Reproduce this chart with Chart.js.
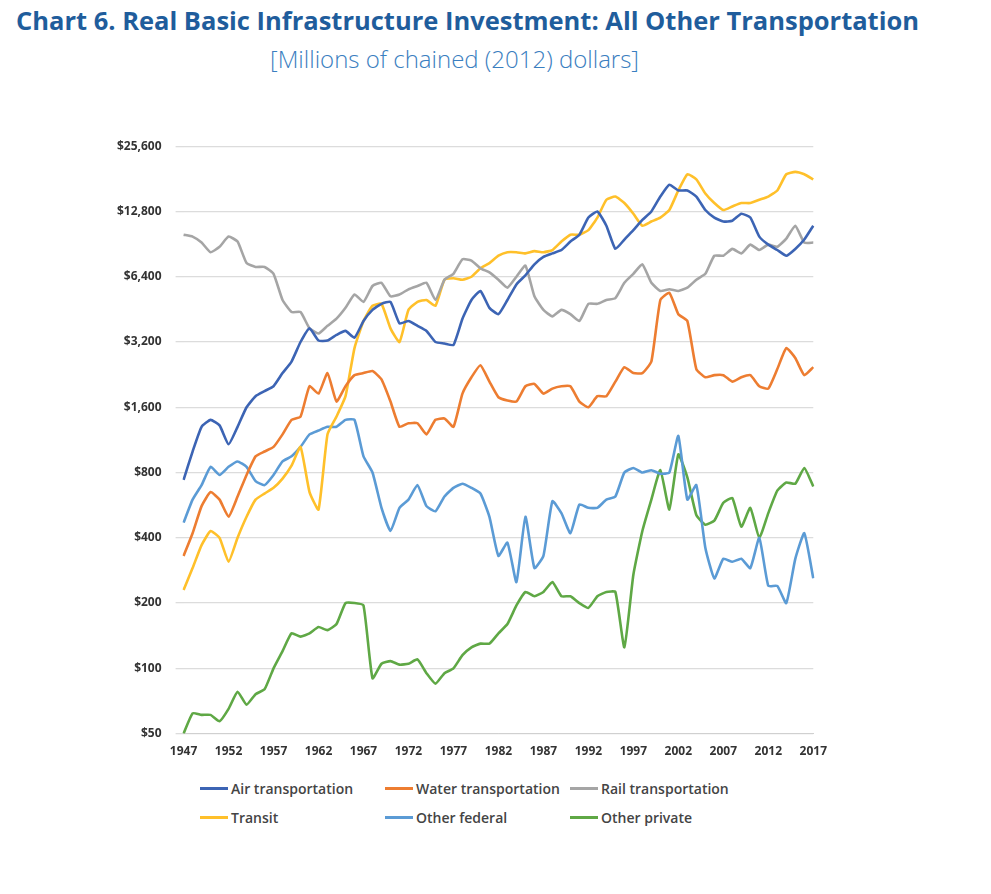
<!DOCTYPE html>
<html>
<head>
<meta charset="utf-8">
<script src="https://cdn.jsdelivr.net/npm/chart.js@4"></script>
<style>
body { margin:0; background:#fff; font-family:"Open Sans", sans-serif; width:991px; height:894px; position:relative; }
#title { position:absolute; left:16px; top:3px; font-size:25.5px; font-weight:bold; color:#1f5d9c; }
#sub { position:absolute; left:270px; top:42px; font-size:24px; font-weight:300; color:#3a7ec0; }
#wrap { position:absolute; left:103px; top:125px; width:727px; height:637px; }
#legend { position:absolute; left:200px; top:779px; width:620px; font-size:14px; font-weight:600; color:#444; }
.item { position:absolute; display:flex; align-items:center; }
.sw { width:28px; height:3px; margin-right:3px; }
</style>
</head>
<body>
<div id="title">Chart 6. Real Basic Infrastructure Investment: All Other Transportation</div>
<div id="sub">[Millions of chained (2012) dollars]</div>
<div id="wrap"><canvas id="chart"></canvas></div>
<div id="legend"></div>
<script>
var years = [];
for (var y = 1947; y <= 2017; y++) years.push(String(y));

var tickValues = [50, 100, 200, 400, 800, 1600, 3200, 6400, 12800, 25600];

var air = [740,1000,1300,1400,1320,1080,1300,1600,1800,1900,
  2000,2300,2600,3200,3700,3250,3250,3450,3600,3350,
  4000,4500,4800,4900,3900,4000,3800,3600,3200,3150,
  3100,4100,5000,5500,4600,4300,5000,5900,6500,7300,
  7900,8200,8500,9300,10000,12000,12800,11000,8600,9500,
  10500,11700,12800,15000,17000,16000,16000,15000,13000,12000,
  11500,11600,12500,12000,9800,9000,8500,8000,8600,9500,
  11000];
var water = [330,420,560,650,600,500,620,780,950,1000,
  1050,1200,1400,1450,2000,1850,2300,1700,2000,2250,
  2300,2350,2150,1700,1300,1350,1350,1200,1400,1420,
  1300,1850,2200,2500,2100,1780,1720,1700,2000,2050,
  1850,1950,2000,2000,1700,1600,1800,1800,2100,2450,
  2300,2300,2600,5000,5400,4300,4000,2400,2200,2250,
  2250,2100,2200,2250,2000,1950,2400,3000,2700,2250,
  2450];
var rail = [10000,9800,9200,8300,8800,9800,9300,7400,7100,7100,
  6600,5000,4400,4400,3700,3500,3800,4100,4600,5300,
  4900,5800,6000,5200,5300,5600,5800,6000,5000,6200,
  6600,7700,7600,7000,6700,6200,5700,6400,7200,5200,
  4500,4200,4500,4300,4000,4800,4800,5000,5100,6000,
  6600,7300,6000,5500,5600,5500,5700,6200,6600,8000,
  8000,8600,8200,9000,8500,9000,8800,9600,11000,9200,
  9200];
var transit = [230,290,370,430,400,310,400,500,600,640,
  680,750,860,1050,650,540,1200,1450,1800,3000,
  4000,4700,4800,3700,3200,4500,4900,5000,4700,6200,
  6300,6200,6400,7000,7400,8000,8300,8300,8200,8400,
  8300,8500,9300,10000,10000,10500,12000,14500,15000,14000,
  12500,11000,11500,12000,13000,16000,19000,18000,15500,14000,
  13000,13500,14000,14000,14500,15000,16000,19000,19500,19000,
  18000];
var federal = [470,600,700,850,780,850,900,850,730,700,
  780,900,950,1050,1200,1250,1300,1300,1400,1400,
  950,800,550,430,550,600,700,560,530,620,
  680,710,680,640,500,330,380,250,500,290,
  330,590,520,420,570,550,550,600,620,800,
  840,800,820,790,800,1180,600,700,360,260,
  320,310,320,290,400,240,240,200,320,420,
  260];
var privateOther = [50,62,61,61,57,65,78,68,76,80,
  100,120,145,140,145,155,150,160,200,200,
  195,90,105,108,104,105,110,95,85,95,
  100,115,125,130,130,145,160,195,225,215,
  225,250,215,215,200,190,215,225,225,125,
  270,430,600,820,540,970,760,510,460,480,
  580,610,450,550,400,520,660,720,710,840,
  690];

var seriesNames = ["Air transportation", "Water transportation", "Rail transportation", "Transit", "Other federal", "Other private"];
var seriesColors = ["#3c64b4", "#ed7d31", "#a5a5a5", "#ffc02a", "#5b9bd5", "#5fa845"];
var seriesData = [air, water, rail, transit, federal, privateOther];

var datasets = [];
for (var i = 0; i < seriesData.length; i++) {
    datasets.push({
        label: seriesNames[i],
        data: seriesData[i],
        borderColor: seriesColors[i],
        borderWidth: 2.6,
        pointRadius: 0,
        tension: 0.15,
        fill: false
    });
}

var chart = new Chart(document.getElementById("chart"), {
    type: 'line',
    data: { labels: years, datasets: datasets },
    options: {
        responsive: true,
        maintainAspectRatio: false,
        animation: false,
        plugins: { legend: { display: false }, tooltip: { enabled: false } },
        scales: {
            x: {
                grid: { display: false },
                border: { color: '#d0d0d0' },
                ticks: {
                    autoSkip: false, maxRotation: 0, color: '#333',
                    font: { size: 12, weight: 'bold', family: 'Open Sans' },
                    callback: function (v, idx) { return (idx % 5 === 0) ? years[idx] : ''; }
                }
            },
            y: {
                type: 'logarithmic',
                min: 50, max: 25600,
                afterBuildTicks: function (axis) {
                    axis.ticks = tickValues.map(function (v) { return { value: v }; });
                },
                grid: { color: '#dcdcdc', lineWidth: 1.3 },
                border: { display: false },
                ticks: {
                    color: '#333', padding: 14,
                    font: { size: 12, weight: 'bold', family: 'Open Sans' },
                    callback: function (v) { return '$' + Number(v).toLocaleString('en-US'); }
                }
            }
        }
    }
});

// legend, 3 per row
var pos = [[0,0],[185,0],[370,0],[0,29],[185,29],[370,29]];
var lg = document.getElementById('legend');
for (var j = 0; j < seriesNames.length; j++) {
    var d = document.createElement('div');
    d.className = 'item';
    d.style.left = pos[j][0] + 'px';
    d.style.top = pos[j][1] + 'px';
    d.innerHTML = '<span class="sw" style="background:' + seriesColors[j] + '"></span>' + seriesNames[j];
    lg.appendChild(d);
}
</script>
</body>
</html>
